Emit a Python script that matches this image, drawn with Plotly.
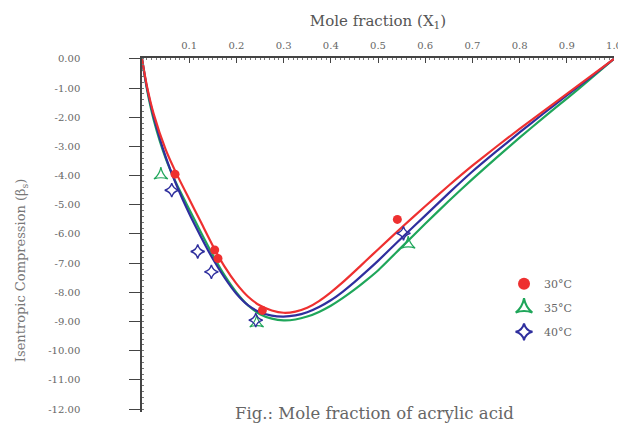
import plotly.graph_objects as go

# ---- data ----
curve_x = [0, 0.01, 0.025, 0.05, 0.075, 0.1, 0.125, 0.15, 0.175, 0.2, 0.225, 0.25, 0.275, 0.3,
           0.325, 0.35, 0.375, 0.4, 0.425, 0.45, 0.475, 0.5,
           0.55, 0.6, 0.65, 0.7, 0.75, 0.8, 0.85, 0.9, 0.95, 1.0]
fit_30 = [0, -0.9, -1.9, -3.1, -4.0, -4.8, -5.6, -6.4, -7.12, -7.7, -8.15, -8.45, -8.62, -8.7,
          -8.66, -8.53, -8.3, -8.0, -7.66, -7.29, -6.91, -6.53,
          -5.78, -5.05, -4.34, -3.66, -3.02, -2.4, -1.8, -1.2, -0.6, 0]
fit_35 = [0, -1.0, -2.1, -3.4, -4.35, -5.15, -5.95, -6.72, -7.42, -8.0, -8.45, -8.75, -8.9, -8.96,
          -8.93, -8.83, -8.67, -8.46, -8.2, -7.91, -7.59, -7.25,
          -6.45, -5.65, -4.87, -4.12, -3.4, -2.7, -2.02, -1.36, -0.69, 0]
fit_40 = [0, -0.95, -2.0, -3.35, -4.4, -5.3, -6.1, -6.85, -7.5, -8.05, -8.45, -8.68, -8.8, -8.83,
          -8.79, -8.68, -8.5, -8.27, -7.98, -7.65, -7.29, -6.92,
          -6.14, -5.37, -4.6, -3.86, -3.18, -2.52, -1.88, -1.25, -0.63, 0]

obs_x_30 = [0.07, 0.154, 0.161, 0.255, 0.541]
obs_y_30 = [-3.95, -6.55, -6.84, -8.62, -5.5]
obs_x_35 = [0.04, 0.243, 0.564]
obs_y_35 = [-3.98, -9.05, -6.35]
obs_x_40 = [0.063, 0.118, 0.147, 0.241, 0.554]
obs_y_40 = [-4.5, -6.6, -7.3, -8.95, -5.98]

series_names = ["30\u00b0C", "35\u00b0C", "40\u00b0C"]
x_ticks = [0.1, 0.2, 0.3, 0.4, 0.5, 0.6, 0.7, 0.8, 0.9, 1.0]
x_tick_labels = ["0.1", "0.2", "0.3", "0.4", "0.5", "0.6", "0.7", "0.8", "0.9", "1.0"]
y_ticks = [0, -1, -2, -3, -4, -5, -6, -7, -8, -9, -10, -11, -12]
y_tick_labels = ["0.00", "-1.00", "-2.00", "-3.00", "-4.00", "-5.00", "-6.00",
                 "-7.00", "-8.00", "-9.00", "-10.00", "-11.00", "-12.00"]

RED = "#ee3030"
GREEN = "#1fa65a"
BLUE = "#2f2f9e"
FONT = "DejaVu Serif"
TXT = "#666666"

fig = go.Figure()

for y, c in [(fit_35, GREEN), (fit_40, BLUE), (fit_30, RED)]:
    fig.add_trace(go.Scatter(x=curve_x, y=y, mode="lines",
                             line=dict(color=c, width=2.2, shape="spline", smoothing=0.5),
                             showlegend=False, hoverinfo="skip"))

fig.add_trace(go.Scatter(x=obs_x_30, y=obs_y_30, mode="markers", name=series_names[0], legendgroup="a",
                         marker=dict(symbol="circle", size=9, color=RED)))
fig.add_trace(go.Scatter(x=obs_x_35, y=obs_y_35, mode="markers", name=series_names[1], legendgroup="b",
                         marker=dict(symbol="star-triangle-up-open", size=10, color=GREEN,
                                     line=dict(width=1.2, color=GREEN))))
fig.add_trace(go.Scatter(x=obs_x_40, y=obs_y_40, mode="markers", name=series_names[2], legendgroup="c",
                         marker=dict(symbol="star-diamond-open", size=10, color=BLUE,
                                     line=dict(width=1.4, color=BLUE))))

fig.update_layout(
    width=626, height=425,
    margin=dict(l=134, r=16, t=49, b=21),
    paper_bgcolor="white", plot_bgcolor="white",
    font=dict(family=FONT, size=10, color=TXT),
    showlegend=True,
    legend=dict(x=0.767, y=0.403, xanchor="left", yanchor="top", bgcolor="rgba(0,0,0,0)",
                font=dict(family=FONT, size=11, color=TXT), itemsizing="constant", tracegroupgap=5),
    xaxis=dict(
        side="top", range=[0, 1.0], tickvals=x_ticks, ticktext=x_tick_labels,
        ticks="inside", ticklen=5, tickcolor="#444", showline=True, linecolor="#444", linewidth=1.5,
        showgrid=False, zeroline=False, tickfont=dict(family=FONT, size=10, color=TXT),
        ticklabelstandoff=3,
        title=dict(text="Mole fraction (X<sub>1</sub>)", font=dict(family=FONT, size=15, color="#555"), standoff=10),
        minor=dict(ticks="inside", ticklen=2, dtick=0.01, tickcolor="#777"),
    ),
    yaxis=dict(
        range=[-12.1, 0.03], tickvals=y_ticks, ticktext=y_tick_labels,
        ticks="outside", ticklen=11, tickcolor="#444", showline=True, linecolor="#444", linewidth=1.5,
        showgrid=False, zeroline=False, tickfont=dict(family=FONT, size=10, color=TXT),
        ticklabelstandoff=47,
        minor=dict(ticks="inside", ticklen=2, dtick=0.2, tickcolor="#777"),
    ),
)

# y-axis title (sits below the axis centre in the reference)
fig.add_annotation(text="Isentropic Compression (\u03b2<sub>s</sub>)", xref="paper", yref="paper",
                   x=-0.2563, y=0.4007, xanchor="center", yanchor="middle", textangle=-90, showarrow=False,
                   font=dict(family=FONT, size=13, color="#777"))

fig.add_annotation(text="Fig.: Mole fraction of acrylic acid", xref="paper", yref="paper",
                   x=0.4916, y=-0.0056, xanchor="center", yanchor="middle", showarrow=False,
                   font=dict(family=FONT, size=16.5, color="#666"))

fig.write_html("out.html")
